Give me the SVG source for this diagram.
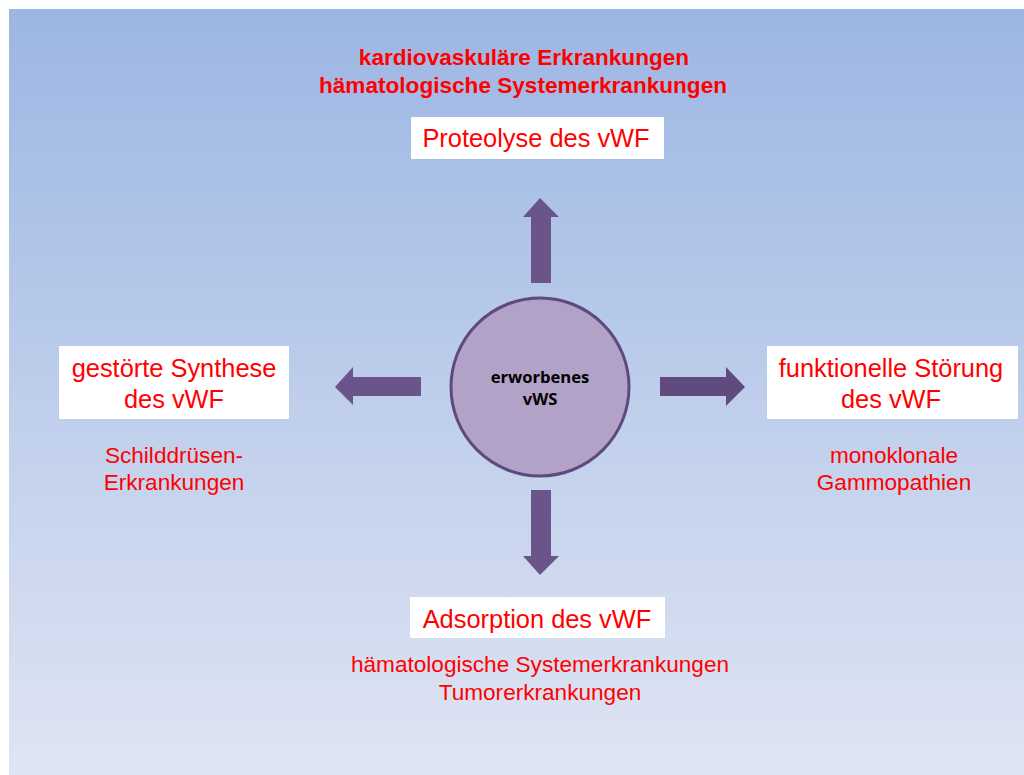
<svg xmlns="http://www.w3.org/2000/svg" width="1024" height="775" viewBox="0 0 1024 775">
  <defs>
    <linearGradient id="bg" x1="0" y1="0" x2="0" y2="1">
      <stop offset="0" stop-color="#9cb6e3"/>
      <stop offset="1" stop-color="#dfe5f3"/>
    </linearGradient>
  </defs>
  <style>
    .box { fill: #ffffff; }
    .lbl { font-family: "Liberation Sans", Arial, sans-serif; fill: #ff0000; text-anchor: middle; }
    .big { font-size: 25.4px; }
    .small { font-size: 22.6px; }
    .bold { font-size: 22.6px; font-weight: bold; }
    .arrow { fill: #6a5489; }
    .center { font-family: "Open Sans", "Liberation Sans", sans-serif; font-size: 16.6px; font-weight: bold; fill: #000000; text-anchor: middle; }
  </style>
  <rect x="0" y="0" width="1024" height="775" fill="#ffffff"/>
  <rect x="9" y="9" width="1015" height="766" fill="url(#bg)"/>

  <g id="top-causes">
    <text class="lbl bold" x="524" y="65">kardiovaskuläre Erkrankungen</text>
    <text class="lbl bold" x="523" y="93">hämatologische Systemerkrankungen</text>
  </g>

  <g id="proteolyse">
    <rect class="box" x="411" y="117" width="253" height="42"/>
    <text class="lbl big" x="536" y="147">Proteolyse des vWF</text>
  </g>

  <g id="synthese">
    <rect class="box" x="59" y="346" width="230" height="73"/>
    <text class="lbl big" x="174" y="377">gestörte Synthese</text>
    <text class="lbl big" x="174" y="408">des vWF</text>
    <text class="lbl small" x="174" y="463">Schilddrüsen-</text>
    <text class="lbl small" x="174" y="490">Erkrankungen</text>
  </g>

  <g id="funktionell">
    <rect class="box" x="767" y="346" width="251" height="73"/>
    <text class="lbl big" x="891" y="377">funktionelle Störung</text>
    <text class="lbl big" x="891" y="408">des vWF</text>
    <text class="lbl small" x="894" y="463">monoklonale</text>
    <text class="lbl small" x="894" y="490">Gammopathien</text>
  </g>

  <g id="adsorption">
    <rect class="box" x="410" y="597" width="255" height="41"/>
    <text class="lbl big" x="537" y="628">Adsorption des vWF</text>
    <text class="lbl small" x="540" y="672">hämatologische Systemerkrankungen</text>
    <text class="lbl small" x="540" y="700">Tumorerkrankungen</text>
  </g>

  <g id="center-node">
    <circle cx="540" cy="387" r="89" fill="#b3a2c8" stroke="#5e4a7e" stroke-width="3"/>
    <text class="center" x="540" y="383">erworbenes</text>
    <text class="center" x="540" y="405">vWS</text>
  </g>

  <g id="connectors">
    <polygon class="arrow" points="531,283 531,217 523,217 540,198 559,217 551,217 551,283"/>
    <polygon class="arrow" points="531,490 551,490 551,556 559,556 540,575 523,556 531,556"/>
    <polygon class="arrow" points="421,377 353,377 353,367 335,387 353,405 353,396 421,396"/>
    <polygon class="arrow" style="fill:#5f4b7e" points="660,377 726,377 726,367 745,387 726,406 726,396 660,396"/>
  </g>
</svg>
